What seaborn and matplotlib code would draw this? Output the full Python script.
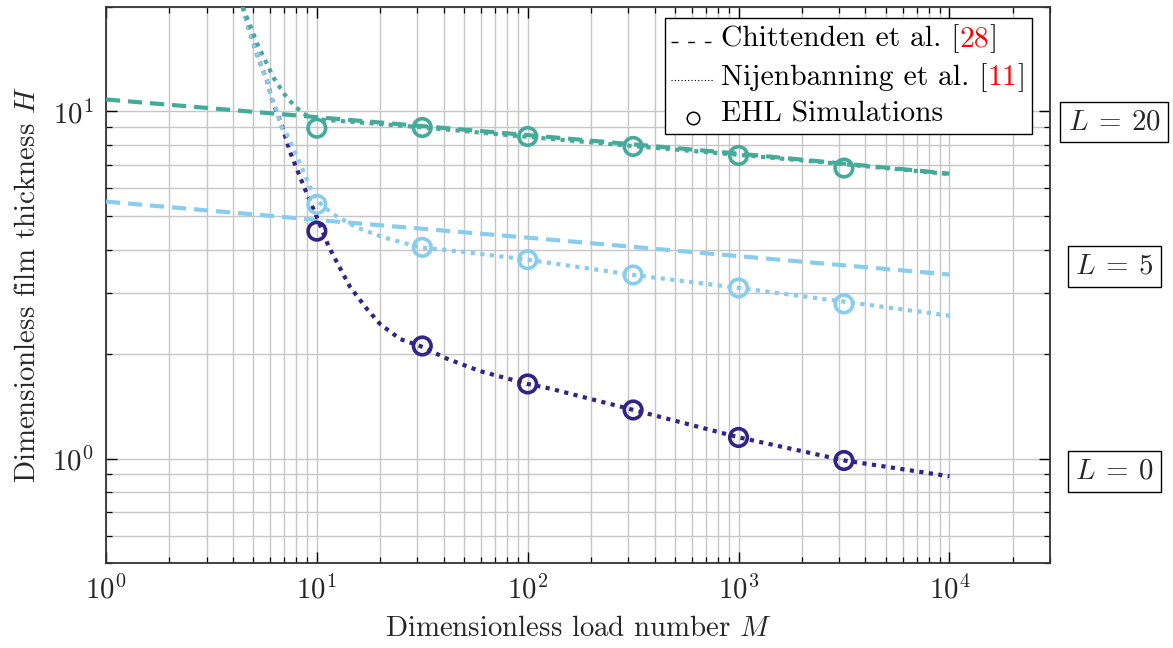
import numpy as np
import pandas as pd
import matplotlib
matplotlib.use("Agg")
import matplotlib.pyplot as plt
import seaborn as sns
from matplotlib.offsetbox import AnchoredOffsetbox, TextArea, HPacker, VPacker, DrawingArea
from matplotlib.lines import Line2D
from matplotlib.ticker import NullFormatter, LogLocator

# ---------------- data ----------------
M_sim = [10, 31.62, 100, 316.2, 1000, 3162]
H_sim_L0 = [4.52, 2.11, 1.64, 1.38, 1.15, 0.987]
H_sim_L5 = [5.40, 4.06, 3.74, 3.38, 3.10, 2.79]
H_sim_L20 = [8.95, 8.99, 8.47, 7.93, 7.47, 6.87]

M_chit = [1, 10, 100, 1000, 10000]
H_chit_L5 = [5.50, 4.87, 4.33, 3.83, 3.39]
H_chit_L20 = [10.83, 9.63, 8.55, 7.56, 6.62]

M_nij_L0 = [4.45, 4.73, 5.04, 5.38, 5.79, 6.11, 6.82, 7.47, 8.03, 8.64, 9.12, 10.0,
            11.34, 12.44, 14.38, 17.26, 19.96, 24.8, 30.9, 41.4, 59.5, 100, 128,
            318, 1008, 3186, 10000]
H_nij_L0 = [20.0, 17.5, 15.5, 13.8, 12.3, 10.9, 9.11, 7.63, 6.84, 6.12, 5.66, 4.96,
            4.10, 3.68, 3.12, 2.70, 2.44, 2.21, 2.11, 1.94, 1.785, 1.64, 1.59,
            1.38, 1.15, 0.987, 0.889]

M_nij_L5 = [4.45, 4.73, 5.04, 5.38, 5.79, 6.11, 6.40, 6.75, 7.20, 8.33, 9.29, 10.0,
            11.98, 15.47, 20.7, 30.9, 51.5, 100, 318, 1008, 3186, 10000]
H_nij_L5 = [20.0, 17.5, 15.5, 13.8, 12.3, 10.9, 10.2, 9.1, 8.6, 7.08, 6.05, 5.54,
            5.05, 4.63, 4.34, 4.06, 3.93, 3.74, 3.38, 3.10, 2.83, 2.58]

M_nij_L20 = [4.45, 4.86, 5.22, 5.74, 6.27, 6.99, 7.47, 8.03, 8.64, 9.46, 10, 20,
             31.6, 100, 316, 1000, 3162, 10000]
H_nij_L20 = [20.0, 17.5, 15.67, 13.87, 12.43, 11.25, 10.71, 10.25, 9.85, 9.59, 9.5, 9.2,
             9.0, 8.45, 7.95, 7.5, 7.05, 6.6]

box_labels = [r"$L\:=\:20$", r"$L\:=\:5$", r"$L\:=\:0$"]
box_H = [9.32, 3.57, 0.917]

c_L0 = "#332288"
c_L5 = "#88CCEE"
c_L20 = "#44AA99"

# ---------------- style ----------------
sns.set_style("ticks")
plt.rcParams["font.family"] = ["cmr10", "DejaVu Serif"]
plt.rcParams["mathtext.fontset"] = "cm"
plt.rcParams["axes.formatter.use_mathtext"] = True
plt.rcParams["axes.unicode_minus"] = False

fig = plt.figure(figsize=(11.73, 6.48), dpi=100)
ax = fig.add_axes([106/1173, 1-563/648, (1050-106)/1173, (563-7)/648])
ax.set_xscale("log")
ax.set_yscale("log")

FS = 20.8
FS_LEG = 21.3
LW = 3.0
dash = (0, (3.4, 1.9))
dot = (0, (1.0, 1.3))

def line(M, H, color, ls, z):
    df = pd.DataFrame({"M": M, "H": H})
    sns.lineplot(data=df, x="M", y="H", ax=ax, color=color, linestyle=ls,
                 lw=LW, estimator=None, sort=False, zorder=z)

def sim(M, H, color):
    df = pd.DataFrame({"M": M, "H": H})
    sns.scatterplot(data=df, x="M", y="H", ax=ax, marker="o", s=160,
                    facecolor="none", edgecolor=color, linewidth=2.6, zorder=5)

line(M_chit, H_chit_L5, c_L5, dash, 3)
line(M_chit, H_chit_L20, c_L20, dash, 3)
line(M_nij_L0, H_nij_L0, c_L0, dot, 4)
line(M_nij_L5, H_nij_L5, c_L5, dot, 4)
line(M_nij_L20, H_nij_L20, c_L20, dot, 4)
sim(M_sim, H_sim_L0, c_L0)
sim(M_sim, H_sim_L5, c_L5)
sim(M_sim, H_sim_L20, c_L20)

ax.set_xlim(1, 3e4)
ax.set_ylim(0.5, 20)
ax.xaxis.set_major_locator(LogLocator(base=10, numticks=10))
ax.xaxis.set_minor_locator(LogLocator(base=10, subs=np.arange(2, 10), numticks=20))
ax.yaxis.set_minor_locator(LogLocator(base=10, subs=np.arange(2, 10), numticks=20))
ax.xaxis.set_minor_formatter(NullFormatter())
ax.yaxis.set_minor_formatter(NullFormatter())

ax.grid(True, which="both", color="#c6c6c6", lw=1.0)
ax.set_axisbelow(True)
ax.tick_params(which="both", direction="in", top=True, right=True,
               labelsize=FS, color="black")
ax.tick_params(which="major", length=8, width=1, pad=9)
ax.tick_params(which="minor", length=4.5, width=0.9)
for s in ax.spines.values():
    s.set_color("#333333")
    s.set_linewidth(1.3)

ax.set_xlabel(r"Dimensionless load number $M$", fontsize=FS, labelpad=8)
ax.set_ylabel(r"Dimensionless film thickness $H$", fontsize=FS, labelpad=8)

# ---------------- legend with red reference numbers ----------------
HW = 29  # handle width in points

def handle(kind):
    da = DrawingArea(HW, 14, 0, 0)
    if kind == "dash":
        da.add_artist(Line2D([0, HW], [5, 5], color="k", lw=1.0, ls=(0, (5, 7))))
    elif kind == "dot":
        da.add_artist(Line2D([0, HW + 2], [5, 5], color="k", lw=0.8, ls=(0, (1, 2))))
    else:
        da.add_artist(Line2D([HW / 2 + 1], [5], color="k", marker="o", ms=9,
                             mfc="none", mew=1.1, ls="none"))
    return da

def label(parts):
    return HPacker(children=[TextArea(t, textprops=dict(color=c, fontsize=FS_LEG))
                             for t, c in parts], align="baseline", pad=0, sep=0)

rows = [
    HPacker(children=[handle("dash"), label([("Chittenden et al. [", "k"), ("28", "red"), ("]", "k")])],
            align="center", pad=0, sep=7),
    HPacker(children=[handle("dot"), label([("Nijenbanning et al. [", "k"), ("11", "red"), ("]", "k")])],
            align="center", pad=0, sep=7),
    HPacker(children=[handle("circ"), label([("EHL Simulations", "k")])],
            align="center", pad=0, sep=7),
]
box = VPacker(children=rows, align="left", pad=0, sep=7.0)
anch = AnchoredOffsetbox(loc="upper right", child=box, pad=0.45, borderpad=0,
                         frameon=True, bbox_to_anchor=(0.9806, 0.9797),
                         bbox_transform=ax.transAxes)
anch.patch.set_boxstyle("square", pad=0)
anch.patch.set_edgecolor("black")
anch.patch.set_linewidth(1.0)
anch.zorder = 10
ax.add_artist(anch)

# ---------------- L boxes on the right ----------------
for txt, hv in zip(box_labels, box_H):
    ax.text(1.068, hv, txt, transform=ax.get_yaxis_transform(), ha="center", va="center",
            fontsize=FS, clip_on=False,
            bbox=dict(boxstyle="square,pad=0.25", fc="white", ec="black", lw=1.0))

fig.savefig("out.png", dpi=100)
